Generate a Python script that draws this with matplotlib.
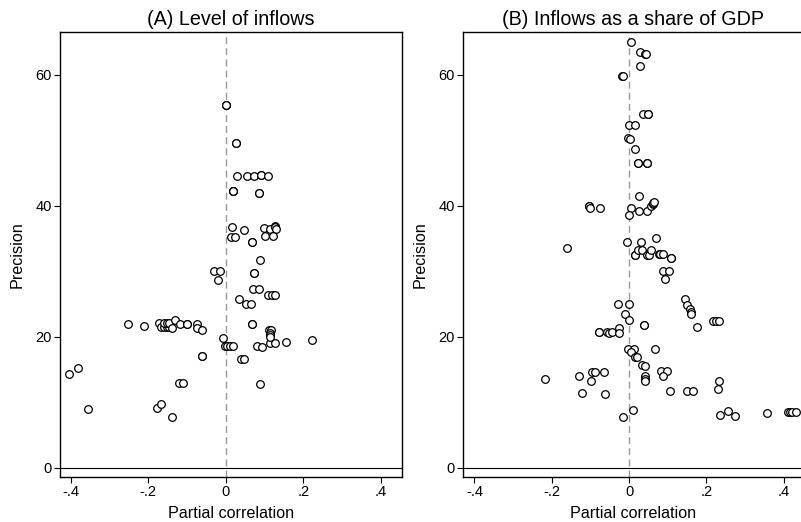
import matplotlib
matplotlib.use("Agg")
import matplotlib.pyplot as plt
from matplotlib.ticker import FuncFormatter

plt.rcParams['font.family'] = ['Liberation Sans', 'DejaVu Sans']

# (A) Level of inflows: partial correlation vs precision
a_pcc = [0.001, 0.001, 0.001, 0.027, 0.027,
         0.030, 0.055, 0.073, 0.092, 0.092, 0.108,
         0.018, 0.018, 0.019, 0.085, 0.085,
         0.015, 0.047, 0.100, 0.114, 0.127, 0.128, 0.131,
         0.014, 0.023, 0.102, 0.122, 0.067, 0.067,
         0.089, -0.029, -0.014, -0.021, 0.073, 0.073,
         0.071, 0.087, 0.108, 0.120, 0.127,
         0.034, 0.052, 0.065, 0.068, 0.068,
         -0.252, -0.210, -0.173, -0.166, -0.159, -0.152, -0.146,
         -0.159, -0.152, -0.146, -0.139, -0.131, -0.119, -0.100, -0.100,
         -0.073, -0.075, -0.062,
         -0.007, -0.060, -0.060,
         -0.003, 0.004, 0.011, 0.018, 0.080, 0.094,
         0.039, 0.047, 0.114, 0.126, 0.155, 0.224,
         0.112, 0.118, 0.114, 0.114, 0.114,
         -0.404, -0.380, -0.356, -0.120, -0.110, 0.089,
         -0.178, -0.168, -0.139]
a_prec = [55.4, 55.4, 55.4, 49.6, 49.6,
          44.6, 44.6, 44.6, 44.7, 44.7, 44.5,
          42.3, 42.3, 42.3, 41.9, 41.9,
          36.7, 36.3, 36.6, 36.4, 36.9, 36.7, 36.5,
          35.2, 35.2, 35.4, 35.4, 34.5, 34.5,
          31.7, 30.0, 30.0, 28.7, 29.8, 29.8,
          27.3, 27.3, 26.4, 26.4, 26.4,
          25.8, 25.0, 25.0, 21.9, 21.9,
          21.9, 21.6, 22.1, 21.5, 21.5, 21.5, 21.5,
          22.1, 22.1, 22.1, 21.4, 22.6, 21.9, 21.9, 21.9,
          21.9, 21.3, 21.0,
          19.8, 17.1, 17.1,
          18.6, 18.6, 18.6, 18.6, 18.6, 18.5,
          16.6, 16.6, 19.1, 19.1, 19.2, 19.5,
          21.0, 21.0, 20.6, 20.2, 20.0,
          14.3, 15.2, 8.9, 12.9, 12.9, 12.8,
          9.1, 9.8, 7.8]

# (B) Inflows as a share of GDP
b_pcc = [0.006, 0.028, 0.041, 0.043, 0.028, -0.019, -0.015,
         0.036, 0.049, 0.050, 0.001, 0.015, -0.003, 0.003,
         0.016, 0.024, 0.024, 0.046, 0.046, 0.025,
         -0.103, -0.103, -0.102, -0.076, 0.004, -0.001, 0.026, 0.047,
         0.057, 0.061, 0.063, 0.065,
         0.069, -0.006, 0.030, -0.161,
         0.016, 0.016, 0.024, 0.034, 0.046, 0.052, 0.056, 0.078, 0.080, 0.087,
         0.108, 0.108,
         0.087, 0.103, 0.092,
         0.146, 0.151, 0.158, 0.160, 0.160, 0.175,
         0.218, 0.225, 0.232,
         -0.028, 0.001, -0.011, 0.001, 0.039, 0.039,
         -0.077, -0.077, -0.058, -0.051, -0.045, -0.027, -0.025,
         -0.003, 0.013, 0.068, 0.004, 0.016, 0.021,
         0.033, 0.041, 0.042, 0.042, 0.042,
         0.083, 0.099, 0.089, 0.107, 0.149, 0.166, 0.233, 0.231,
         -0.217, -0.129, -0.098, -0.095, -0.087, -0.065, -0.122, -0.062,
         -0.015, 0.009, 0.235, 0.256, 0.274, 0.356,
         0.412, 0.417, 0.421, 0.432]
b_prec = [65.0, 63.5, 63.1, 63.1, 61.3, 59.8, 59.8,
          54.0, 54.0, 54.0, 52.3, 52.3, 50.4, 50.2,
          48.6, 46.5, 46.5, 46.5, 46.5, 41.4,
          39.9, 39.9, 39.7, 39.6, 39.6, 38.6, 39.2, 39.2,
          40.0, 40.2, 40.4, 40.5,
          35.0, 34.4, 34.4, 33.6,
          32.4, 32.4, 33.2, 33.2, 32.4, 32.4, 33.2, 32.6, 32.6, 32.6,
          32.0, 32.0,
          30.1, 30.1, 28.8,
          25.8, 24.9, 24.2, 23.8, 23.4, 21.5,
          22.4, 22.4, 22.4,
          25.0, 25.0, 23.4, 22.5, 21.8, 21.8,
          20.8, 20.8, 20.7, 20.5, 20.7, 21.3, 20.6,
          18.2, 18.2, 18.2, 17.6, 16.9, 16.9,
          15.7, 15.6, 14.0, 13.5, 13.2,
          14.7, 14.7, 14.0, 11.7, 11.7, 11.7, 13.2, 12.0,
          13.5, 14.0, 13.3, 14.6, 14.6, 14.6, 11.4, 11.3,
          7.7, 8.8, 8.1, 8.7, 7.9, 8.3,
          8.5, 8.5, 8.5, 8.5]

# panel B runs off the right edge of the image, as in the original
panels = [
    ("(A) Level of inflows", a_pcc, a_prec,
     [60 / 801, 45 / 522, 342 / 801, 445 / 522], (-0.4276, 0.455)),
    ("(B) Inflows as a share of GDP", b_pcc, b_prec,
     [463 / 801, 45 / 522, 340 / 801, 445 / 522], (-0.4295, 0.450)),
]

fig = plt.figure(figsize=(8.01, 5.22), dpi=100)

def fmt(v, pos):
    # Stata style: drop the leading zero
    s = f"{v:.1f}" if abs(v) > 1e-9 else "0"
    return s.replace("0.", ".")

for title, xs, ys, rect, xlim in panels:
    ax = fig.add_axes(rect)
    ax.plot(xs, ys, linestyle="none", marker="o", markersize=5.5,
            markerfacecolor="white", markeredgecolor="black",
            markeredgewidth=0.9, zorder=3)
    ax.axvline(0, color="#999999", linewidth=1.0, linestyle=(0, (5, 3)), zorder=1)
    ax.axhline(0, color="black", linewidth=0.8, zorder=1)
    ax.set_xlim(*xlim)
    ax.set_ylim(-1.4, 66.5)
    ax.set_xticks([-0.4, -0.2, 0, 0.2, 0.4])
    ax.set_yticks([0, 20, 40, 60])
    ax.xaxis.set_major_formatter(FuncFormatter(fmt))
    ax.tick_params(direction="out", length=4, width=0.8, labelsize=10.5, pad=2)
    for sp in ax.spines.values():
        sp.set_linewidth(1.0)
    ax.set_title(title, fontsize=14.2, pad=5)
    ax.set_xlabel("Partial correlation", fontsize=11.6, labelpad=5)
    ax.set_ylabel("Precision", fontsize=11.6, labelpad=8)

fig.savefig("out.png", dpi=100)
